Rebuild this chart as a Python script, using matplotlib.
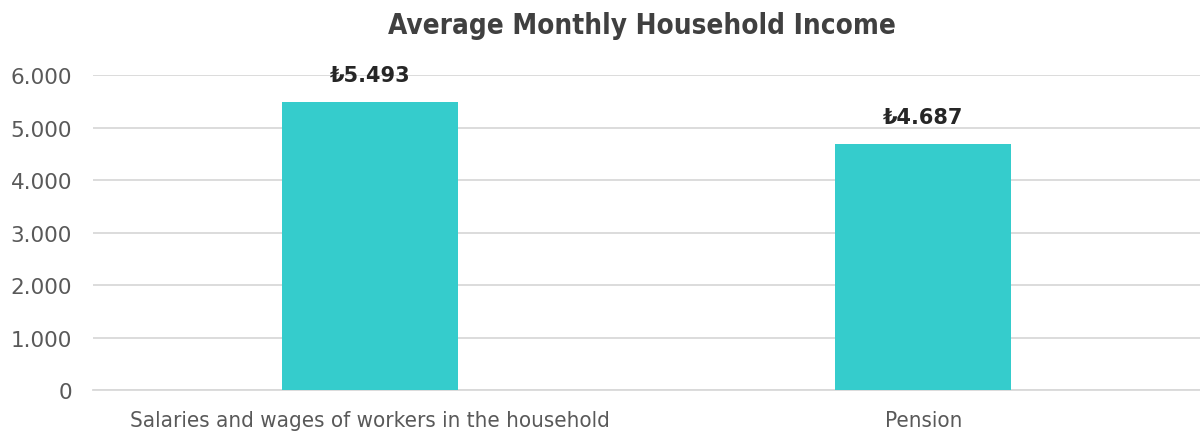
import matplotlib
matplotlib.use("Agg")
import matplotlib.pyplot as plt
from matplotlib.ticker import FuncFormatter

categories = ["Salaries and wages of workers in the household", "Pension"]
values = [5493, 4687]
yticks = [0, 1000, 2000, 3000, 4000, 5000, 6000]

fig = plt.figure(figsize=(12, 4.35), dpi=100)
ax = fig.add_axes([0.0775, 0.101, 0.9225, 0.7243])

x = range(len(categories))
bars = ax.bar(x, values, width=0.318, color="#35CCCC", zorder=3)

ax.set_xlim(-0.5, len(categories) - 0.5)
ax.set_ylim(0, 6000)
ax.set_yticks(yticks)
ax.yaxis.set_major_formatter(FuncFormatter(lambda v, p: f"{int(v):,}".replace(",", ".")))
ax.grid(axis="y", color="#D9D9D9", linewidth=1.3, zorder=0)
for s in ["top", "right", "left"]:
    ax.spines[s].set_visible(False)
ax.spines["bottom"].set_color("#D9D9D9")
ax.spines["bottom"].set_linewidth(1.3)
ax.tick_params(axis="both", length=0, colors="#595959")
ax.tick_params(axis="y", labelsize=15.5, pad=15)
ax.tick_params(axis="x", pad=14)

ax.set_xticks(list(x))
ax.set_xticklabels(categories, fontsize=16, family="DejaVu Sans", fontstretch="condensed",
                   color="#595959")

for rect, v in zip(bars, values):
    label = "₺" + f"{v:,}".replace(",", ".")
    ax.annotate(label, (rect.get_x() + rect.get_width() / 2, v),
                xytext=(0, 12), textcoords="offset points",
                ha="center", va="bottom", fontsize=15, fontweight="bold",
                color="#262626", family=["DejaVu Sans"], annotation_clip=False)

fig.text(0.535, 0.94, "Average Monthly Household Income", ha="center", va="center",
         fontsize=20, fontweight="bold", fontstretch="condensed", color="#404040",
         family=["DejaVu Sans"])

fig.savefig("out.png", dpi=100)
